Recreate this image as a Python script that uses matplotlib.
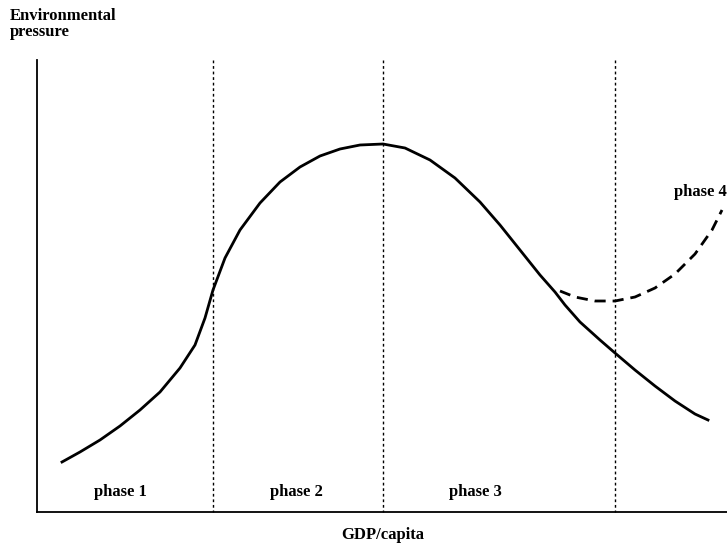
import matplotlib.pyplot as plt

# main curve (pixel coordinates)
curve_x = [62, 80, 100, 120, 140, 160, 180, 195, 205, 213, 225, 240, 260, 280, 300, 320, 340, 360, 383,
           405, 430, 455, 480, 500, 520, 540, 555, 565, 580, 600, 615, 635, 655, 675, 695, 708]
curve_y = [462, 452, 440, 426, 410, 392, 368, 345, 318, 290, 258, 230, 203, 182, 167, 156, 149, 145, 144,
           148, 160, 178, 202, 225, 250, 275, 292, 305, 322, 340, 353, 370, 386, 401, 414, 420]

# phase 4 branch (dashed)
dash_x = [560, 575, 595, 615, 635, 655, 675, 695, 712, 722]
dash_y = [291, 297, 301, 301, 297, 288, 274, 254, 230, 210]

divider_x = [213, 383, 615]
phase_labels = ["phase 1", "phase 2", "phase 3"]
phase_label_x = [120, 296, 475]

plt.rcParams['font.family'] = ['Liberation Serif', 'DejaVu Serif']

fig = plt.figure(figsize=(7.27, 5.44), dpi=100)
ax = fig.add_axes([0, 0, 1, 1])
ax.set_xlim(0, 727)
ax.set_ylim(544, 0)
ax.axis('off')

# axes lines
ax.plot([37, 37], [60, 512], color='black', lw=1.3)
ax.plot([37, 727], [512, 512], color='black', lw=1.3)

for x in divider_x:
    ax.plot([x, x], [60, 512], color='black', lw=1, linestyle=(0, (2, 2)))

ax.plot(curve_x, curve_y, color='black', lw=2)
ax.plot(dash_x, dash_y, color='black', lw=2, linestyle=(0, (4, 2.5)))

for lab, x in zip(phase_labels, phase_label_x):
    ax.text(x, 492, lab, ha='center', va='center', fontsize=12, fontweight='bold')
ax.text(727, 192, "phase 4", ha='right', va='center', fontsize=12, fontweight='bold')

ax.text(10, 8, "Environmental\npressure", ha='left', va='top', fontsize=12,
        fontweight='bold', linespacing=1.0)
ax.text(383, 535, "GDP/capita", ha='center', va='center', fontsize=12, fontweight='bold')

plt.savefig('out.png', dpi=100, facecolor='white')
